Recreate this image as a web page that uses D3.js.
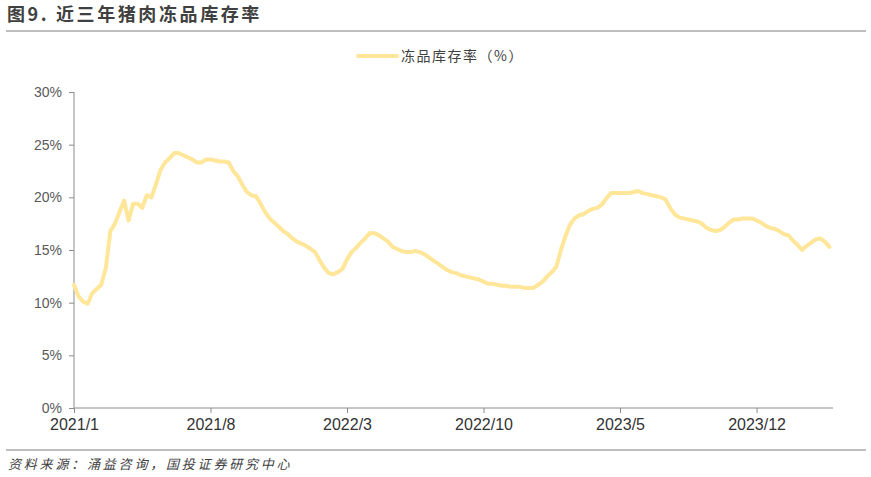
<!DOCTYPE html>
<html>
<head>
  <meta charset="utf-8">
  <script src="https://d3js.org/d3.v7.min.js"></script>
  <style>
    body { margin: 0; background: #fff; }
    .title { font-family: "Noto Sans CJK SC", sans-serif; font-size: 18px; font-weight: bold; fill: #404040; letter-spacing: 2.6px; }
    .legend { font-family: "Noto Sans CJK SC", sans-serif; font-size: 14px; fill: #404040; letter-spacing: 1.5px; }
    .source { font-family: "Noto Sans CJK SC", sans-serif; font-size: 13px; font-style: italic; fill: #404040; letter-spacing: 2.8px; }
    .axis text { font-family: "Liberation Sans", Arial, sans-serif; font-size: 14px; fill: #595959; }
    .x.axis text { font-size: 16px; fill: #333; }
    .axis path, .axis line { stroke: #8c8c8c; }
  </style>
</head>
<body>
  <script>
    // 周度冻品库存率（%）
    var values = [
      11.7, 10.6, 10.1, 9.9, 10.9, 11.3, 11.7, 13.3, 16.8, 17.5,
      18.6, 19.7, 17.8, 19.4, 19.4, 19.0, 20.2, 20.0, 21.2, 22.6,
      23.3, 23.7, 24.2, 24.2, 24.0, 23.8, 23.6, 23.3, 23.3, 23.6,
      23.6, 23.5, 23.4, 23.4, 23.3, 22.5, 22.0, 21.2, 20.5, 20.2,
      20.1, 19.4, 18.6, 18.0, 17.6, 17.2, 16.8, 16.5, 16.1, 15.8,
      15.6, 15.4, 15.1, 14.8, 14.0, 13.3, 12.8, 12.7, 12.9, 13.2,
      14.1, 14.8, 15.2, 15.7, 16.1, 16.6, 16.6, 16.4, 16.1, 15.8,
      15.3, 15.1, 14.9, 14.8, 14.8, 14.9, 14.8, 14.6, 14.3, 14.0,
      13.7, 13.4, 13.1, 12.9, 12.8, 12.6, 12.5, 12.4, 12.3, 12.2,
      12.0, 11.8, 11.8, 11.7, 11.6, 11.6, 11.5, 11.5, 11.5, 11.4,
      11.4, 11.4, 11.7, 12.0, 12.5, 12.9, 13.4, 15.0, 16.3, 17.4,
      18.0, 18.3, 18.4, 18.7, 18.9, 19.0, 19.3, 19.9, 20.4, 20.4,
      20.4, 20.4, 20.4, 20.5, 20.6, 20.4, 20.3, 20.2, 20.1, 20.0,
      19.8, 19.0, 18.4, 18.1, 18.0, 17.9, 17.8, 17.7, 17.5, 17.1,
      16.9, 16.8, 16.9, 17.2, 17.6, 17.9, 17.9, 18.0, 18.0, 18.0,
      17.8, 17.6, 17.3, 17.1, 17.0, 16.8, 16.5, 16.4, 15.9, 15.5,
      15.0, 15.4, 15.7, 16.0, 16.1, 15.8, 15.3
    ];
    // 横轴标签，每 30 周一个
    var xTickLabels = ["2021/1", "2021/8", "2022/3", "2022/10", "2023/5", "2023/12"];
    var xTickStep = 30;
    var yTicks = [0, 5, 10, 15, 20, 25, 30];
    var seriesName = "冻品库存率（%）";

    var width = 871, height = 477;
    var margin = { left: 74, right: 38, top: 92, bottom: 69 };

    var svg = d3.select("body")
      .append("svg")
      .attr("width", width)
      .attr("height", height);

    // 标题和分隔线
    svg.append("text")
      .attr("class", "title")
      .attr("x", 7)
      .attr("y", 21)
      .text("图9. 近三年猪肉冻品库存率");
    svg.append("line")
      .attr("x1", 6).attr("x2", 866)
      .attr("y1", 31).attr("y2", 31)
      .attr("stroke", "#7f7f7f").attr("stroke-width", 1.2);

    var x = d3.scaleLinear()
      .domain([0, 166.8])
      .range([margin.left, width - margin.right]);
    var y = d3.scaleLinear()
      .domain([0, 30])
      .range([height - margin.bottom, margin.top]);

    // 纵轴
    svg.append("g")
      .attr("class", "y axis")
      .attr("transform", "translate(" + margin.left + ",0)")
      .call(d3.axisLeft(y).tickValues(yTicks).tickSize(5).tickPadding(7)
        .tickFormat(function(d) { return d + "%"; }))
      .call(function(g) { g.select(".domain").attr("d", "M0," + y(30) + "V" + y(0)); });

    // 横轴
    var tickIdx = xTickLabels.map(function(d, i) { return i * xTickStep; });
    svg.append("g")
      .attr("class", "x axis")
      .attr("transform", "translate(0," + y(0) + ")")
      .call(d3.axisBottom(x).tickValues(tickIdx).tickSize(5).tickPadding(6)
        .tickFormat(function(d, i) { return xTickLabels[i]; }))
      .call(function(g) { g.select(".domain").attr("d", "M" + margin.left + ",0H" + (width - margin.right)); });

    // 折线
    var line = d3.line()
      .x(function(d, i) { return x(i); })
      .y(function(d) { return y(d); });
    svg.append("path")
      .datum(values)
      .attr("fill", "none")
      .attr("stroke", "#ffe699")
      .attr("stroke-width", 4)
      .attr("stroke-linejoin", "round")
      .attr("stroke-linecap", "round")
      .attr("d", line);

    // 图例
    svg.append("line")
      .attr("x1", 358).attr("x2", 397)
      .attr("y1", 56).attr("y2", 56)
      .attr("stroke", "#ffe699").attr("stroke-width", 4)
      .attr("stroke-linecap", "round");
    svg.append("text")
      .attr("class", "legend")
      .attr("x", 401)
      .attr("y", 61)
      .text(seriesName);

    // 底部线和资料来源
    svg.append("line")
      .attr("x1", 6).attr("x2", 866)
      .attr("y1", 450).attr("y2", 450)
      .attr("stroke", "#7f7f7f").attr("stroke-width", 1.2);
    svg.append("text")
      .attr("class", "source")
      .attr("x", 8)
      .attr("y", 469)
      .text("资料来源：涌益咨询，国投证券研究中心");
  </script>
</body>
</html>
